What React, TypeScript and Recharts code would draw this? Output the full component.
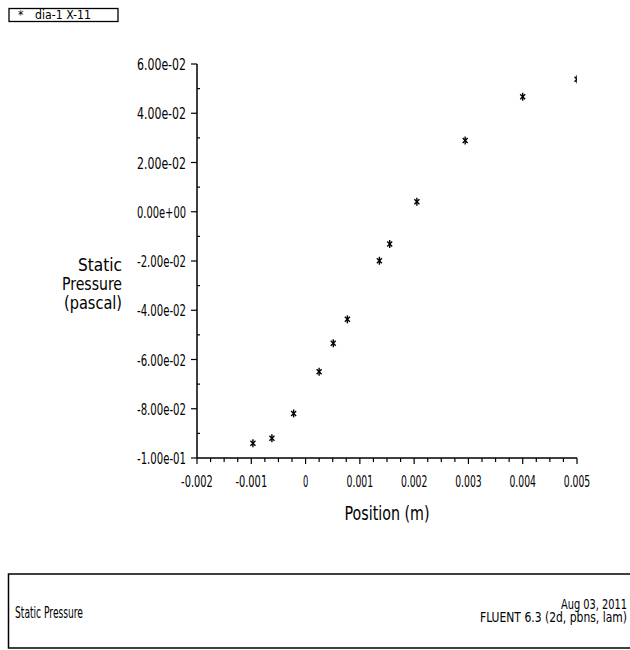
import { Label, Scatter, ScatterChart, XAxis, YAxis } from "recharts";

// positions (m) and static pressure (pascal)
const positions = [
  -0.00097, -0.00062, -0.00022, 0.00025, 0.00051, 0.00077,
  0.00136, 0.00155, 0.00205, 0.00294, 0.004, 0.005,
];
const pressures = [
  -0.094, -0.092, -0.0819, -0.065, -0.0534, -0.0437,
  -0.0199, -0.0131, 0.0041, 0.0289, 0.0467, 0.0538,
];

const xMajor = [-0.002, -0.001, 0, 0.001, 0.002, 0.003, 0.004, 0.005];
const yMajor = [-0.1, -0.08, -0.06, -0.04, -0.02, 0, 0.02, 0.04, 0.06];
const xMinorPerMajor = 4;
const yMinorPerMajor = 2;

const legendText = "dia-1 X-11";
const xTitle = "Position (m)";
const yTitle = ["Static", "Pressure", "(pascal)"];
const yTitleWidths = [44, 60, 58];
const footerLeft = "Static Pressure";
const footerDate = "Aug 03, 2011";
const footerVersion = "FLUENT 6.3 (2d, pbns, lam)";

const data = positions.map((x, i) => ({ x, y: pressures[i] }));

const withMinor = (major: number[], n: number) => {
  const out: number[] = [];
  major.forEach((v, i) => {
    out.push(v);
    if (i < major.length - 1) {
      const step = (major[i + 1] - v) / n;
      for (let k = 1; k < n; k++) out.push(v + step * k);
    }
  });
  return out;
};
const xTicks = withMinor(xMajor, xMinorPerMajor);
const yTicks = withMinor(yMajor, yMinorPerMajor);

const isMajor = (v: number, list: number[]) => list.some((m) => Math.abs(m - v) < 1e-9);

const FONT = "'DejaVu Sans Condensed', 'DejaVu Sans', sans-serif";

const fmtExp = (v: number) =>
  v.toExponential(2).replace(/e([+-])(\d)$/, "e$10$2");
const fmtPos = (v: number) => String(Number(v.toFixed(3)));

function XTick({ x, y, payload }: any) {
  const major = isMajor(payload.value, xMajor);
  const label = fmtPos(payload.value);
  return (
    <g>
      <line x1={x} x2={x} y1={y} y2={y + (major ? 6 : 4)} stroke="#000" strokeWidth={1.2} />
      {major && (
        <text
          x={x}
          y={y + 29}
          textAnchor="middle"
          fontFamily={FONT}
          fontSize={15}
          textLength={label.length * 5.3}
          lengthAdjust="spacingAndGlyphs"
          fill="#000"
        >
          {label}
        </text>
      )}
    </g>
  );
}

function YTick({ x, y, payload }: any) {
  const major = isMajor(payload.value, yMajor);
  const label = fmtExp(payload.value);
  return (
    <g>
      {major ? (
        <line x1={x - 6} x2={x} y1={y} y2={y} stroke="#000" strokeWidth={1.2} />
      ) : (
        <line x1={x} x2={x + 3} y1={y} y2={y} stroke="#000" strokeWidth={1.2} />
      )}
      {major && (
        <text
          x={x - 11}
          y={y + 6}
          textAnchor="end"
          fontFamily={FONT}
          fontSize={16}
          textLength={49}
          lengthAdjust="spacingAndGlyphs"
          fill="#000"
        >
          {label}
        </text>
      )}
    </g>
  );
}

function Star({ cx, cy }: any) {
  return (
    <g stroke="#000" strokeWidth={1.4}>
      <line x1={cx} x2={cx} y1={cy - 4} y2={cy + 4} />
      <line x1={cx - 2.5} x2={cx + 2.5} y1={cy - 2.5} y2={cy + 2.5} />
      <line x1={cx - 2.5} x2={cx + 2.5} y1={cy + 2.5} y2={cy - 2.5} />
    </g>
  );
}

export default function App() {
  return (
    <div style={{ position: "absolute", left: 0, top: 0, width: 630, height: 650, background: "#fff" }}>
      <ScatterChart width={630} height={560} margin={{ top: 64, right: 53, bottom: 0, left: 0 }}>
        <XAxis
          type="number"
          dataKey="x"
          domain={[-0.002, 0.005]}
          ticks={xTicks}
          interval={0}
          tick={<XTick />}
          tickLine={false}
          tickSize={0}
          tickMargin={0}
          height={102}
          axisLine={{ stroke: "#000", strokeWidth: 1.5 }}
          allowDataOverflow
        >
          <Label
            content={({ viewBox }: any) => (
              <text
                x={viewBox.x + viewBox.width / 2}
                y={viewBox.y + 62}
                textAnchor="middle"
                fontFamily={FONT}
                fontSize={20}
                textLength={85}
                lengthAdjust="spacingAndGlyphs"
                fill="#000"
              >
                {xTitle}
              </text>
            )}
          />
        </XAxis>
        <YAxis
          type="number"
          dataKey="y"
          domain={[-0.1, 0.06]}
          ticks={yTicks}
          interval={0}
          tick={<YTick />}
          tickLine={false}
          tickSize={0}
          tickMargin={0}
          width={197}
          axisLine={{ stroke: "#000", strokeWidth: 1.5 }}
          allowDataOverflow
        >
          <Label
            content={({ viewBox }: any) => (
              <g>
                {yTitle.map((t, i) => (
                  <text
                    key={t}
                    x={viewBox.x + 122}
                    y={viewBox.y + 207 + i * 19}
                    textAnchor="end"
                    fontFamily={FONT}
                    fontSize={18}
                    textLength={yTitleWidths[i]}
                    lengthAdjust="spacingAndGlyphs"
                    fill="#000"
                  >
                    {t}
                  </text>
                ))}
              </g>
            )}
          />
        </YAxis>
        <Scatter data={data} shape={<Star />} isAnimationActive={false} />
      </ScatterChart>

      <svg
        width={630}
        height={650}
        style={{ position: "absolute", left: 0, top: 0, pointerEvents: "none" }}
      >
        <rect x={9} y={8.5} width={109} height={13} fill="none" stroke="#000" strokeWidth={1.3} />
        <text x={18} y={19} fontFamily={FONT} fontSize={12} fill="#000">*</text>
        <text
          x={35}
          y={19}
          fontFamily={FONT}
          fontSize={12}
          textLength={56}
          lengthAdjust="spacingAndGlyphs"
          fill="#000"
        >
          {legendText}
        </text>

        <rect x={8.5} y={574} width={640} height={74} fill="none" stroke="#000" strokeWidth={1.5} />
        <text
          x={15}
          y={618}
          fontFamily={FONT}
          fontSize={15}
          textLength={68}
          lengthAdjust="spacingAndGlyphs"
          fill="#000"
        >
          {footerLeft}
        </text>
        <text
          x={627}
          y={609}
          textAnchor="end"
          fontFamily={FONT}
          fontSize={14}
          textLength={66}
          lengthAdjust="spacingAndGlyphs"
          fill="#000"
        >
          {footerDate}
        </text>
        <text
          x={627}
          y={622}
          textAnchor="end"
          fontFamily={FONT}
          fontSize={14}
          textLength={147}
          lengthAdjust="spacingAndGlyphs"
          fill="#000"
        >
          {footerVersion}
        </text>
      </svg>
    </div>
  );
}
